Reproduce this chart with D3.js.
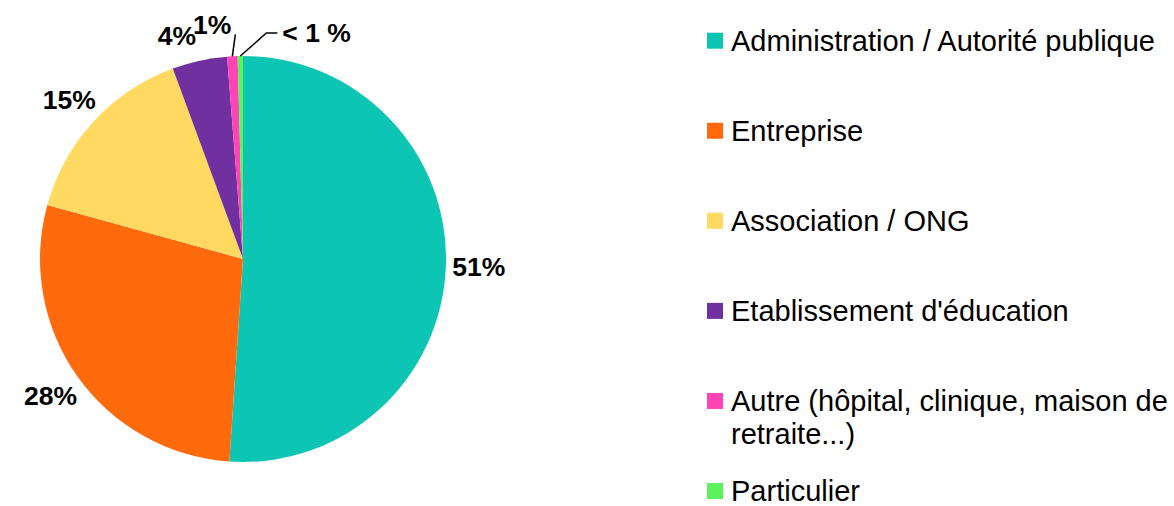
<!DOCTYPE html>
<html>
<head>
<meta charset="utf-8">
<script src="https://cdn.jsdelivr.net/npm/d3@7"></script>
<style>
  body { margin: 0; background: #fff; }
  svg { display: block; font-family: "Liberation Sans", Arial, sans-serif; }
</style>
</head>
<body>
<svg width="1174" height="506"></svg>
<script>
// categories, shares and label texts
var categories = ["Administration / Autorité publique", "Entreprise", "Association / ONG",
                  "Etablissement d'éducation", "Autre (hôpital, clinique, maison de retraite...)", "Particulier"];
var values = [51.07, 28.22, 15.09, 4.37, 0.83, 0.42];
var labels = ["51%", "28%", "15%", "4%", "1%", "< 1 %"];
var colors = ["#0cc5b2", "#ff6a0c", "#ffd960", "#7030a0", "#ff45b5", "#5cf25c"];
// legend lines (long entry wrapped like in the original)
var legendLines = [["Administration / Autorité publique"], ["Entreprise"], ["Association / ONG"],
                   ["Etablissement d'éducation"], ["Autre (hôpital, clinique, maison de", "retraite...)"], ["Particulier"]];

var svg = d3.select("svg"),
    cx = 243, cy = 259, radius = 203;

var data = categories.map(function(c, i) {
  return {name: c, value: values[i], label: labels[i], color: colors[i]};
});

var pie = d3.pie().sort(null).value(function(d) { return d.value; });
var arc = d3.arc().innerRadius(0).outerRadius(radius);

var g = svg.append("g")
    .attr("transform", "translate(" + cx + "," + cy + ")");

var arcs = pie(data);

// slices
g.selectAll(".slice")
  .data(arcs)
  .enter().append("path")
    .attr("class", "slice")
    .attr("d", arc)
    .attr("fill", function(d) { return d.data.color; });

// point on a circle of radius r at the middle angle of the slice
function midPoint(d, r) {
  var a = (d.startAngle + d.endAngle) / 2;
  return [Math.sin(a) * r, -Math.cos(a) * r];
}

var last = arcs.length - 1;

arcs.forEach(function(d, i) {
  var a = (d.startAngle + d.endAngle) / 2;
  var small = d.data.value < 2;
  var s = Math.sin(a);

  if (small && i === last) {
    // elbow leader to the right
    var p0 = midPoint(d, radius);
    var p1 = [p0[0] + 26, p0[1] - 23];
    var p2 = [p1[0] + 11, p1[1]];
    g.append("polyline")
      .attr("points", [p0, p1, p2].map(function(p) { return p.join(","); }).join(" "))
      .attr("fill", "none")
      .attr("stroke", "#000")
      .attr("stroke-width", 1.5);
    g.append("text")
      .attr("x", p2[0] + 5)
      .attr("y", p2[1] + 9)
      .attr("font-size", "26.5px")
      .attr("font-weight", "bold")
      .text(d.data.label);
    return;
  }

  if (Math.abs(s) < 0.3) {
    // labels near the top: bottom corner of the text sits on the mid angle
    var p = midPoint(d, small ? 222 : 219);
    var anchor = s < 0 ? "end" : "start";
    if (small) {
      var q = midPoint(d, radius);
      g.append("line")
        .attr("x1", q[0]).attr("y1", q[1])
        .attr("x2", p[0] + 4).attr("y2", p[1] - 3)
        .attr("stroke", "#000")
        .attr("stroke-width", 1.5);
    }
    g.append("text")
      .attr("x", p[0])
      .attr("y", small ? p[1] - 3 : p[1])
      .attr("text-anchor", anchor)
      .attr("font-size", "26.5px")
      .attr("font-weight", "bold")
      .text(d.data.label);
    return;
  }

  var c = midPoint(d, 236);
  g.append("text")
    .attr("x", c[0])
    .attr("y", c[1] + 9.5)
    .attr("text-anchor", "middle")
    .attr("font-size", "26.5px")
    .attr("font-weight", "bold")
    .text(d.data.label);
});

// legend
var ly = d3.scaleLinear().domain([0, categories.length - 1]).range([50.7, 501]);

var legend = svg.selectAll(".legend")
  .data(data)
  .enter().append("g")
    .attr("class", "legend")
    .attr("transform", function(d, i) { return "translate(707," + ly(i) + ")"; });

legend.append("rect")
    .attr("x", 0)
    .attr("y", -18)
    .attr("width", 16)
    .attr("height", 16)
    .attr("fill", function(d) { return d.color; });

legend.append("text")
    .attr("font-size", "29px")
    .attr("fill", "#000")
    .selectAll("tspan")
    .data(function(d, i) { return legendLines[i]; })
    .enter().append("tspan")
      .attr("x", 24)
      .attr("y", function(t, j) { return j * 33; })
      .text(function(t) { return t; });
</script>
</body>
</html>
